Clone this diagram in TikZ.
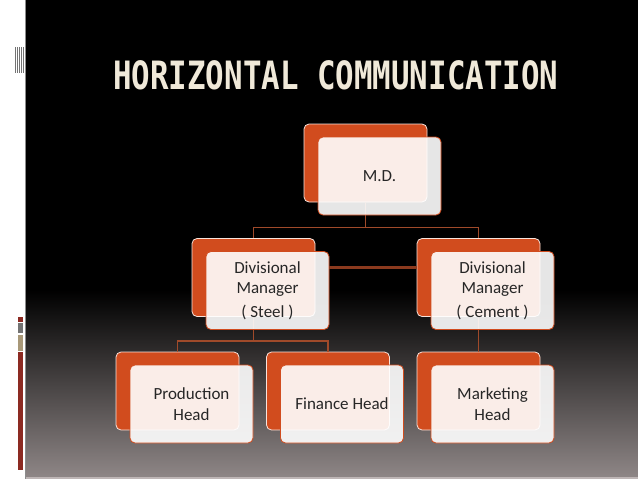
\documentclass[tikz,border=0pt]{standalone}
\usepackage{fontspec}
\setmainfont{Carlito}
\newfontfamily\titlefont[FakeStretch=0.79]{DejaVu Sans Mono}
\usetikzlibrary{calc}
\definecolor{slideorange}{RGB}{209,76,30}
\definecolor{linkbrown}{RGB}{139,58,30}
\definecolor{treebrown}{RGB}{160,74,42}
\definecolor{titlecream}{RGB}{240,233,217}
\definecolor{boxtext}{RGB}{38,38,38}
\definecolor{fademid}{RGB}{48,43,43}
\definecolor{fadebottom}{RGB}{142,134,134}
\definecolor{edgegrey}{RGB}{190,182,182}
\definecolor{barred}{RGB}{140,42,34}
\definecolor{bartan}{RGB}{168,152,120}
\tikzset{
  backbox/.style={draw=white!85!slideorange, line width=0.8pt, fill=slideorange,
    rounded corners=5pt, minimum width=123pt, minimum height=78pt, inner sep=0pt},
  frontbox/.style={draw=slideorange, line width=0.8pt, fill=white, fill opacity=0.9,
    text opacity=1, rounded corners=5pt, minimum width=123pt, minimum height=78pt,
    inner sep=0pt, align=center, text=boxtext, font=\fontsize{17}{20.5}\selectfont},
  tree/.style={draw=treebrown, line width=1.3pt},
  link/.style={draw=linkbrown, line width=3pt}
}

\begin{document}
\begin{tikzpicture}[x=1pt, y=-1pt]
		%%%%% START %%%%%
		\useasboundingbox (0, 0) rectangle (638, 479);
		
		\fill[white] (0, 0) rectangle (26, 479);
		\fill[black] (25.5, 0) rectangle (638, 479);
		\shade[top color=black, middle color=fademid, bottom color=fadebottom] (25.5, 290) rectangle (638, 477);
		\fill[black!45] (25, 0) rectangle (25.8, 479);
		\fill[edgegrey] (25.5, 477) rectangle (638, 479);
		
		\foreach \x in {14.5, 16.7, 19, 21.2, 23.4}
			\fill[black!55] (\x, 47) rectangle (\x+1, 73);
		\fill[barred] (18, 317) rectangle (23, 322);
		\fill[black!55] (18, 323) rectangle (23, 333);
		\fill[bartan] (18, 335) rectangle (23, 351);
		\fill[barred] (18, 352) rectangle (23, 470);
		
		\node[anchor=base west, inner sep=0pt, text=titlecream, font=\titlefont\bfseries\fontsize{39}{39}\selectfont] (title) at (113, 89) {HORIZONTAL COMMUNICATION};
		
		\node[backbox] (mdb) at (365.5, 163) {};
		\node[backbox] (steelb) at (253.5, 277.5) {};
		\node[backbox] (cementb) at (478.5, 277.5) {};
		\node[backbox] (prodb) at (177.5, 391) {};
		\node[backbox] (finb) at (328, 391) {};
		\node[backbox] (mktb) at (478.5, 391) {};
		
		\draw[tree] (mdb.south) -- ++(0, 25) -| (steelb.north);
		\draw[tree] (mdb.south) -- ++(0, 25) -| (cementb.north);
		\draw[tree] (steelb.south) -- ++(0, 24) -| (prodb.north);
		\draw[tree] (steelb.south) -- ++(0, 24) -| (finb.north);
		\draw[tree] (cementb.south) -- (mktb.north);
		
		\node[frontbox] (md) at (379.5, 176) {M.D.};
		\node[frontbox] (steel) at (267.5, 290.5) {Divisional\\Manager\\[3pt]( Steel )};
		\node[frontbox] (cement) at (492.5, 290.5) {Divisional\\Manager\\[3pt]( Cement )};
		\node[frontbox] (prod) at (191.5, 404) {Production\\Head};
		\node[frontbox] (fin) at (342, 404) {Finance Head};
		\node[frontbox] (mkt) at (492.5, 404) {Marketing\\Head};
		
		\coordinate (lk) at (0, 267);
		\draw[link] (steel.east |- lk) -- (cementb.west |- lk);
		
		%%%%% END %%%%%
	\end{tikzpicture}
\end{document}
